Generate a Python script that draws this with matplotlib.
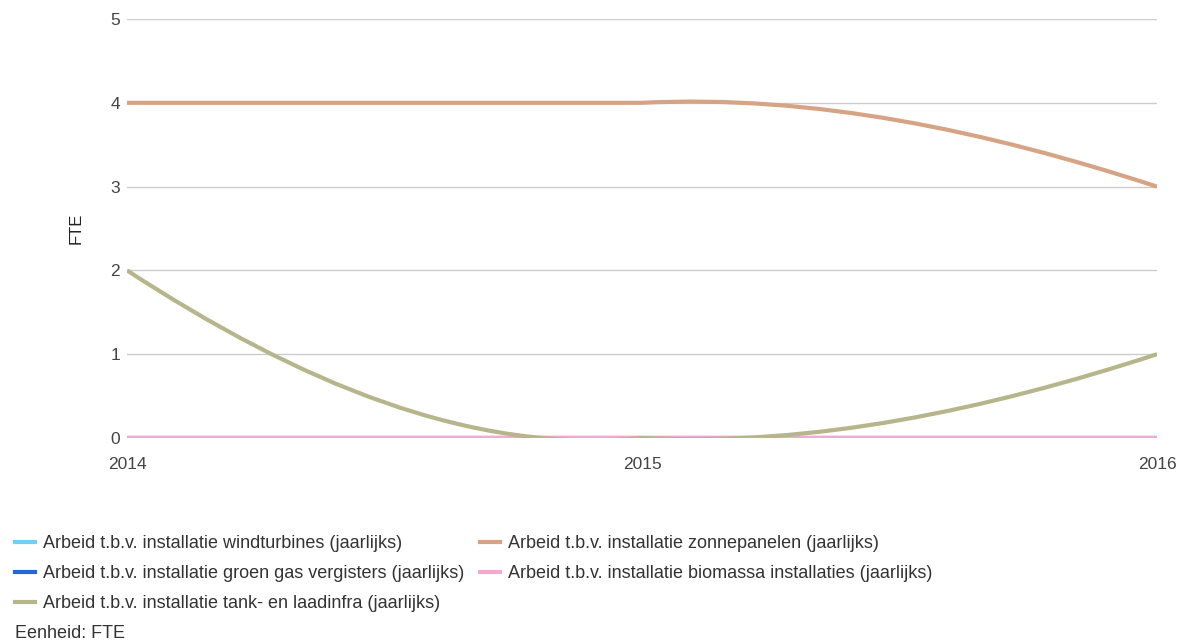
import numpy as np
import matplotlib
matplotlib.use('Agg')
import matplotlib.pyplot as plt
from matplotlib.path import Path
from matplotlib.patches import PathPatch
from matplotlib.lines import Line2D

plt.rcParams['font.family'] = ['Liberation Sans', 'DejaVu Sans']

jaren = [2014, 2015, 2016]
windturbines = [0, 0, 0]
zonnepanelen = [4, 4, 3]
groen_gas = [0, 0, 0]
biomassa = [0, 0, 0]
tank_laadinfra = [2, 0, 1]

labels = [
    'Arbeid t.b.v. installatie windturbines (jaarlijks)',
    'Arbeid t.b.v. installatie zonnepanelen (jaarlijks)',
    'Arbeid t.b.v. installatie groen gas vergisters (jaarlijks)',
    'Arbeid t.b.v. installatie biomassa installaties (jaarlijks)',
    'Arbeid t.b.v. installatie tank- en laadinfra (jaarlijks)',
]
kleuren = ['#6fcff5', '#d6a385', '#2468d6', '#f5a8d0', '#b7b58c']
reeksen = [windturbines, zonnepanelen, groen_gas, biomassa, tank_laadinfra]


def curve_pad(x, y):
    # gladde lijn als bezier-stukken (zoals de bron-grafiek)
    x = np.asarray(x, float)
    y = np.asarray(y, float)
    n = len(x)
    verts = [(x[0], y[0])]
    codes = [Path.MOVETO]
    for i in range(n - 1):
        h = x[i + 1] - x[i]
        s = (y[i + 1] - y[i]) / h
        m0 = 2 * s if i == 0 else -0.3 * s
        m1 = 2 * s if i == n - 2 else -0.3 * s
        verts += [(x[i] + h / 3, y[i] + m0 * h / 3),
                  (x[i + 1] - h / 3, y[i + 1] - m1 * h / 3),
                  (x[i + 1], y[i + 1])]
        codes += [Path.CURVE4] * 3
    return Path(verts, codes)


fig = plt.figure(figsize=(11.83, 6.42), dpi=100)
ax = fig.add_axes([127 / 1183, 1 - 438 / 642, 1030 / 1183, 419 / 642])

for waarden, kleur in zip(reeksen, kleuren):
    patch = PathPatch(curve_pad(jaren, waarden), facecolor='none',
                      edgecolor=kleur, lw=3, capstyle='butt')
    ax.add_patch(patch)

ax.set_xlim(2014, 2016)
ax.set_ylim(0, 5)
ax.set_xticks(jaren)
ax.set_xticklabels([str(j) for j in jaren])
ax.set_yticks(range(6))
ax.grid(axis='y', color='#cccccc', lw=1)
ax.set_axisbelow(True)
for s in ax.spines.values():
    s.set_visible(False)
ax.tick_params(length=0, labelsize=12.5, colors='#444444')
ax.tick_params(axis='x', pad=13.5)
ax.tick_params(axis='y', pad=5)
ax.set_ylabel('FTE', fontsize=12, color='#222222')
ax.yaxis.set_label_coords(-43 / 1030, 0.5)

# legenda
volgorde = [0, 2, 4, 1, 3]
handles = [Line2D([], [], color=kleuren[i], lw=3) for i in volgorde]
fig.legend(handles, [labels[i] for i in volgorde], loc='upper left',
           bbox_to_anchor=(15 / 1183, 1 - 535 / 642), ncol=2, frameon=False,
           fontsize=13, handlelength=1.1, handletextpad=0.45,
           columnspacing=0.9, labelspacing=0.72, borderpad=0,
           borderaxespad=0, labelcolor='#333333')
fig.text(15 / 1183, 1 - 633 / 642, 'Eenheid: FTE', fontsize=13,
         color='#333333', va='center')

fig.savefig('out.png', dpi=100)
